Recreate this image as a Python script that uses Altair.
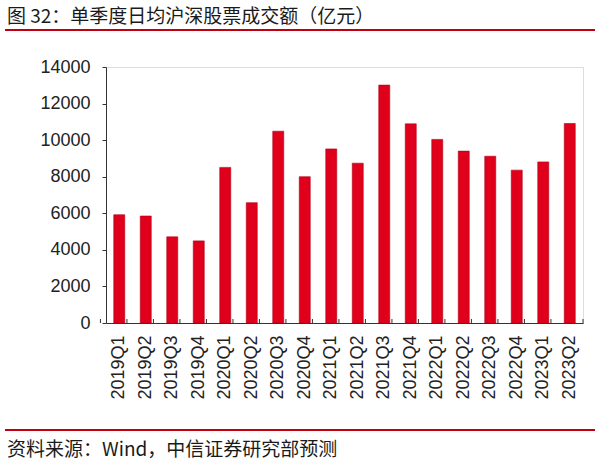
import altair as alt
import pandas as pd

quarters = ["2019Q1", "2019Q2", "2019Q3", "2019Q4", "2020Q1", "2020Q2", "2020Q3", "2020Q4",
            "2021Q1", "2021Q2", "2021Q3", "2021Q4", "2022Q1", "2022Q2", "2022Q3", "2022Q4",
            "2023Q1", "2023Q2"]
values = [5920, 5850, 4710, 4490, 8510, 6580, 10490, 8000,
          9520, 8740, 13010, 10890, 10040, 9400, 9120, 8360,
          8810, 10910]
title_text = "图 32：单季度日均沪深股票成交额（亿元）"
source_text = "资料来源：Wind，中信证券研究部预测"

df = pd.DataFrame({"q": quarters, "v": values})
W, H = 477, 256
red = "#E0001B"
cjk = "Noto Sans CJK SC"
latin = "Liberation Sans"

xenc = alt.X("q:N", sort=quarters, title=None,
             scale=alt.Scale(paddingInner=0.58, paddingOuter=0.29),
             axis=alt.Axis(labelAngle=-90, labelAlign="right", labelBaseline="middle",
                           labelFontSize=18, labelFont=latin, labelColor="#222",
                           labelPadding=12, ticks=False, domainColor="#333",
                           domainWidth=1))

bars = alt.Chart(df).mark_bar(color=red, stroke="#B00015", strokeWidth=0.6, size=11).encode(
    x=xenc,
    y=alt.Y("v:Q", title=None, scale=alt.Scale(domain=[0, 14000]),
            axis=alt.Axis(values=list(range(0, 14001, 2000)), format="d",
                          labelFontSize=18, labelFont=latin, labelColor="#222",
                          grid=False, tickSize=4, tickColor="#333",
                          domainColor="#333", labelPadding=12))
)

step = W / len(quarters)
ticks = alt.Chart(df).mark_rule(color="#333", strokeWidth=1).encode(
    x=alt.X("q:N", sort=quarters),
    xOffset=alt.value(-step / 2),
    y=alt.value(H),
    y2=alt.value(H - 4),
)
end_tick = alt.Chart(pd.DataFrame({"a": [0]})).mark_rule(color="#333").encode(
    x=alt.value(W), y=alt.value(H), y2=alt.value(H - 4))

tdf = pd.DataFrame({"t": [title_text]})
title = alt.Chart(tdf).mark_text(align="left", baseline="middle", font=cjk,
                                 fontSize=19, color="#1a1a1a").encode(
    text="t:N", x=alt.value(-99), y=alt.value(-50))
line_top = alt.Chart(tdf).mark_rule(color="#C00010", strokeWidth=2).encode(
    x=alt.value(-101), x2=alt.value(489), y=alt.value(-37))

sdf = pd.DataFrame({"t": [source_text]})
source = alt.Chart(sdf).mark_text(align="left", baseline="middle", font=cjk,
                                  fontSize=19, color="#1a1a1a").encode(
    text="t:N", x=alt.value(-99), y=alt.value(383))
line_bot = alt.Chart(sdf).mark_rule(color="#C00010", strokeWidth=2).encode(
    x=alt.value(-101), x2=alt.value(489), y=alt.value(363))

chart = alt.layer(bars, ticks, end_tick, title, line_top, source, line_bot).properties(
    width=W, height=H,
    autosize=alt.AutoSizeParams(type="none"),
    padding={"left": 106, "top": 67, "right": 17, "bottom": 147},
).configure_view(stroke=None).configure(background="white")

chart.save("out.html", embed_options={"renderer": "svg", "actions": False})
